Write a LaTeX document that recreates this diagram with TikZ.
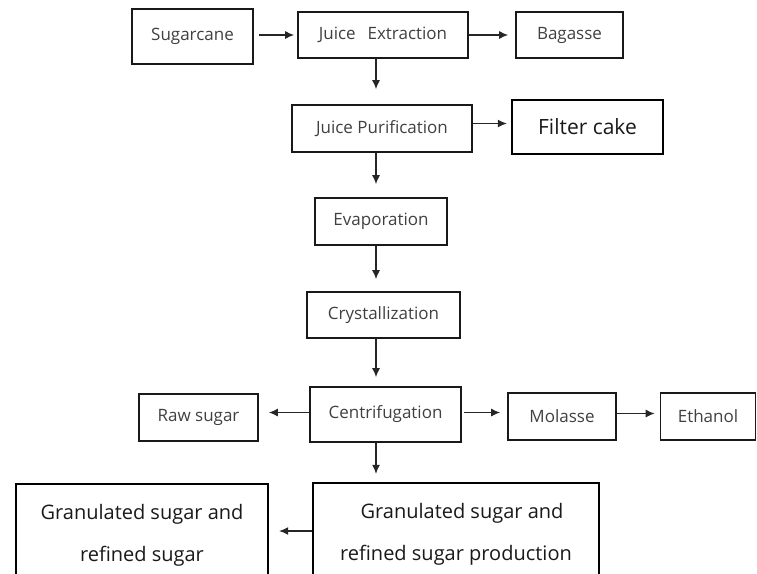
\documentclass[tikz,border=0pt]{standalone}
\usepackage{fontspec}
\setmainfont{Open Sans}
\usetikzlibrary{positioning,calc,arrows.meta}

\begin{document}
\begin{tikzpicture}[x=1pt,y=-1pt,
				step box/.style={rectangle, draw=black!90, line width=1.8pt, inner sep=0pt, text=black!75, font=\fontsize{17}{20}\selectfont, align=center},
				big box/.style={rectangle, draw=black, line width=2.4pt, inner sep=0pt, text=black!90, align=center},
				flow/.style={draw=black!85, line width=1.1pt, -{Latex[length=9pt,width=8pt]}}
			]
			\clip (0,0) rectangle (757,573);
			\node[step box, minimum width=121pt, minimum height=55pt] (sugarcane) at (192.5,36.5) {Sugarcane};
			\node[step box, minimum width=170pt, minimum height=46pt] (extraction) at (383,35) {Juice\hspace{0.7em}Extraction};
			\node[step box, minimum width=107pt, minimum height=46pt] (bagasse) at (569.5,35) {Bagasse};
			\node[step box, minimum width=180pt, minimum height=47pt] (purification) at (382,128.5) {Juice Purification};
			\node[big box, minimum width=151pt, minimum height=54pt, font=\fontsize{21}{25}\selectfont] (filtercake) at (587.5,127) {Filter cake};
			\node[step box, minimum width=132pt, minimum height=47pt] (evaporation) at (381,221.5) {Evaporation};
			\node[step box, minimum width=153pt, minimum height=46pt] (crystallization) at (383.5,315) {Crystallization};
			\node[step box, minimum width=151pt, minimum height=55pt] (centrifugation) at (385.5,414.5) {Centrifugation};
			\node[step box, minimum width=119pt, minimum height=47pt] (rawsugar) at (198.5,417.5) {Raw sugar};
			\node[step box, minimum width=108pt, minimum height=47pt] (molasse) at (562,416.5) {Molasse};
			\node[step box, minimum width=95pt, minimum height=47pt] (ethanol) at (708,416.5) {Ethanol};
			\node[big box, minimum width=286pt, minimum height=102pt, font=\fontsize{20}{42}\selectfont] (production) at (456,534) {\hspace*{0.6em}Granulated sugar and\\refined sugar production};
			\node[big box, minimum width=252pt, minimum height=102pt, font=\fontsize{20}{42}\selectfont] (granulated) at (142,535) {Granulated sugar and\\refined sugar};
			\coordinate (spine) at (376,0);
			\begin{scope}[flow]
			\draw[shorten <=5pt, shorten >=3pt] (sugarcane.east |- extraction.west) -- (extraction.west);
			\draw[shorten >=7pt] (extraction.east) -- (bagasse.west);
			\draw[shorten >=15pt] (extraction.south -| spine) -- (purification.north -| spine);
			\draw[shorten >=4pt] ([yshift=5pt]purification.east) -- ([yshift=5pt]purification.east -| filtercake.west);
			\draw[shorten >=13pt] (purification.south -| spine) -- (evaporation.north -| spine);
			\draw[shorten >=12pt] (evaporation.south -| spine) -- (crystallization.north -| spine);
			\draw[shorten >=9pt] (crystallization.south -| spine) -- (centrifugation.north -| spine);
			\draw[shorten >=10pt] ([yshift=2pt]centrifugation.west) -- ([yshift=2pt]centrifugation.west -| rawsugar.east);
			\draw[shorten <=2pt, shorten >=7pt] ([yshift=2pt]centrifugation.east) -- ([yshift=2pt]centrifugation.east -| molasse.west);
			\draw[shorten >=5pt] ([yshift=3pt]molasse.east) -- ([yshift=3pt]molasse.east -| ethanol.west);
			\draw[shorten >=8pt] (centrifugation.south -| spine) -- (production.north -| spine);
			\draw[shorten >=10pt] ([yshift=3pt]production.west) -- ([yshift=3pt]production.west -| granulated.east);
			\end{scope}
\end{tikzpicture}
\end{document}
